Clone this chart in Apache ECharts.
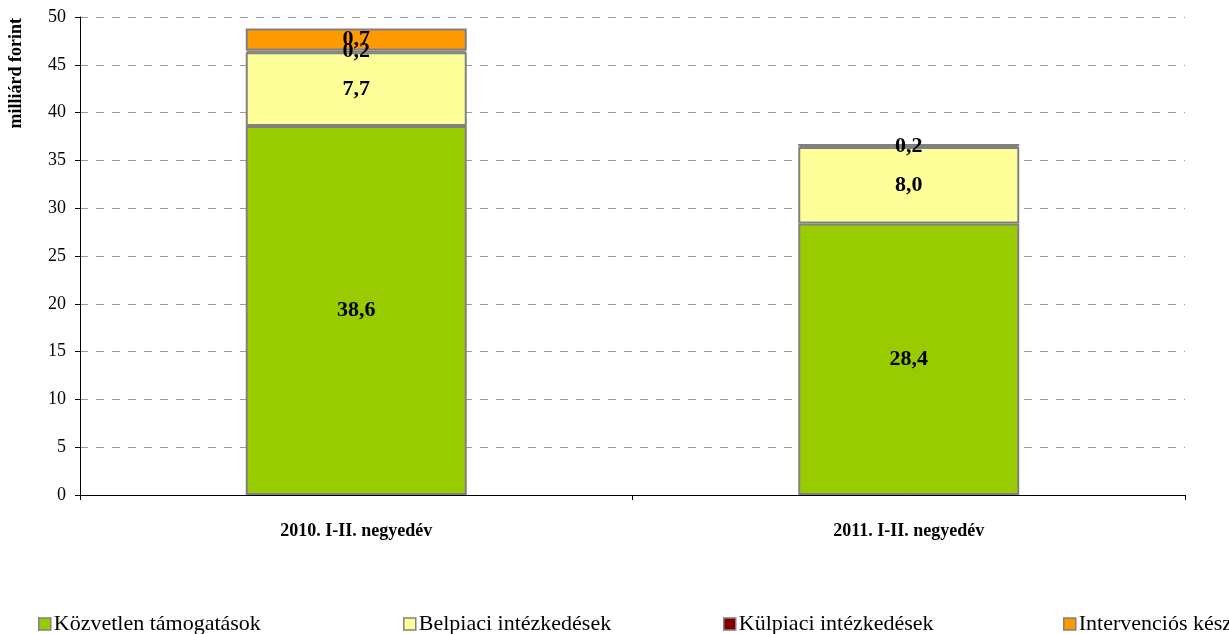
<!DOCTYPE html>
<html>
<head>
<meta charset="utf-8">
<script src="https://cdn.jsdelivr.net/npm/echarts@6/dist/echarts.min.js"></script>
<style>
  html, body { margin: 0; padding: 0; background: #fff; }
  #main { width: 1229px; height: 634px; }
</style>
</head>
<body>
<div id="main"></div>
<script>
let categories = ['2010. I-II. negyedév', '2011. I-II. negyedév']
let seriesNames = ['Közvetlen támogatások', 'Belpiaci intézkedések', 'Külpiaci intézkedések', 'Intervenciós készletezés']
let kozvetlen = [38.6, 28.4]
let belpiaci = [7.7, 8.0]
let kulpiaci = [0.2, 0.2]
let intervencios = [2.3, 0]
// felirat a kepen (a narancs szelet cimkeje 0,7)
let intervenciosLabels = ['0,7', '']
let yTicks = [0, 50, 5]

let colors = ['#99CC00', '#FFFF99', '#800000', '#FF9900']
let font = '"Liberation Serif", "DejaVu Serif", serif'

function fmt(v) {
  return v ? v.toFixed(1).replace('.', ',') : ''
}

let chart = echarts.init(document.getElementById('main'))

function makeSeries(name, data, color, labels) {
  return {
    name: name,
    type: 'bar',
    stack: 'total',
    data: data,
    barWidth: '40%',
    itemStyle: {
      color: color,
      borderColor: '#808080',
      borderWidth: 2
    },
    label: {
      show: true,
      position: 'inside',
      fontFamily: font,
      fontWeight: 'bold',
      fontSize: 22,
      color: '#000',
      formatter: function (p) {
        return labels ? labels[p.dataIndex] : fmt(p.value)
      }
    },
    emphasis: { disabled: true }
  }
}

let legendLefts = [33, 398, 718, 1058]
let legends = seriesNames.map(function (n, i) {
  return {
    data: [n],
    left: legendLefts[i],
    top: 608,
    itemWidth: 12,
    itemHeight: 12,
    itemGap: 4,
    icon: 'rect',
    selectedMode: false,
    itemStyle: { borderColor: '#808080', borderWidth: 1.5 },
    textStyle: { fontFamily: font, fontSize: 22, color: '#000', padding: [0, 0, 0, -2] }
  }
})

let option = {
  backgroundColor: '#fff',
  animation: false,
  color: colors,
  legend: legends,
  grid: { left: 80, right: 44, top: 17, bottom: 139 },
  graphic: [{
    type: 'text',
    left: 7,
    top: 18,
    rotation: Math.PI / 2,
    style: {
      text: 'milliárd forint',
      fontFamily: font,
      fontWeight: 'bold',
      fontSize: 18,
      fill: '#000'
    }
  }],
  xAxis: {
    type: 'category',
    data: categories,
    axisLine: { lineStyle: { color: '#000', width: 1 } },
    axisTick: { show: true, length: 5, lineStyle: { color: '#000' } },
    axisLabel: {
      margin: 27,
      fontFamily: font,
      fontWeight: 'bold',
      fontSize: 18,
      color: '#000'
    }
  },
  yAxis: {
    type: 'value',
    min: yTicks[0],
    max: yTicks[1],
    interval: yTicks[2],
    axisLine: { show: true, lineStyle: { color: '#000', width: 1 } },
    axisTick: { show: true, length: 5, lineStyle: { color: '#000' } },
    axisLabel: {
      margin: 14,
      fontFamily: font,
      fontSize: 18,
      color: '#000'
    },
    splitLine: {
      lineStyle: { color: '#999', type: [8, 8], width: 1 }
    }
  },
  series: [
    makeSeries(seriesNames[0], kozvetlen, colors[0]),
    makeSeries(seriesNames[1], belpiaci, colors[1]),
    makeSeries(seriesNames[2], kulpiaci, colors[2]),
    makeSeries(seriesNames[3], intervencios, colors[3], intervenciosLabels)
  ]
}

chart.setOption(option)
</script>
</body>
</html>
